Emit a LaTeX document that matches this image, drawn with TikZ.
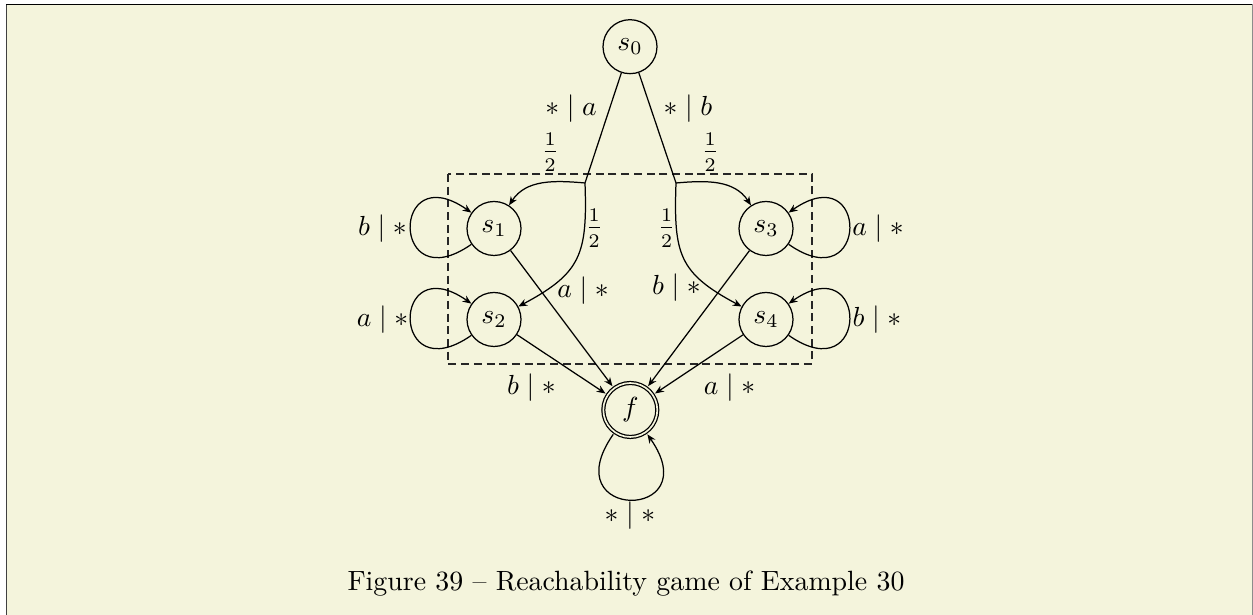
\documentclass[tikz,border=0pt]{standalone}
\usetikzlibrary{arrows.meta}
\definecolor{bgc}{RGB}{244,244,220}
\newcommand\halfx{\frac{\rule[-1.8pt]{0pt}{1.8pt}1}{\rule{0pt}{6.5pt}2}}
\begin{document}
\begin{tikzpicture}[x=0.3623pt,y=0.3623pt,line width=0.45pt,
  st/.style={circle,draw,minimum size=19.56pt,inner sep=0pt},
  lbl/.style={inner sep=0pt},
  arr/.style={-{Stealth[length=3.2pt,width=2.6pt]}},
  ]
\useasboundingbox (0,0) rectangle (1253,615);
\fill[white] (0,0) rectangle (1253,615);
\fill[bgc] (6.5,0) rectangle (1252.3,610.5);
\draw[black!75, line width=0.7pt] (6.5,0) -- (6.5,610.5);
\draw[black, line width=0.55pt] (6,610.5) -- (1252.3,610.5);
\draw[black!45, line width=0.35pt] (1252.3,610.5) -- (1252.3,0);

\draw[black!85,line width=0.4pt,dash pattern=on 2.9pt off 1.7pt] (448,441) rectangle (812,251);

\node[st] (s0) at (630,568.3) {$s_0$};
\node[st] (s1) at (494,386.5) {$s_1$};
\node[st] (s2) at (494,295.5) {$s_2$};
\node[st] (s3) at (766,386.5) {$s_3$};
\node[st] (s4) at (766,295.5) {$s_4$};
\node[st,double=bgc,double distance=0.6pt,outer sep=1pt] (f) at (630.3,205) {$f$};

\coordinate (L) at (585,432);
\coordinate (R) at (676,432);

\draw (s0) -- (L);
\draw (s0) -- (R);
\draw[arr] (L) to[out=175,in=57] (s1);
\draw[arr] (L) to[out=-88,in=28,looseness=1.3] (s2);
\draw[arr] (R) to[out=5,in=123] (s3);
\draw[arr] (R) to[out=-92,in=152,looseness=1.3] (s4);

\draw[arr] (s1) to[out=215,in=145,looseness=8] (s1);
\draw[arr] (s2) to[out=215,in=145,looseness=8] (s2);
\draw[arr] (s3) to[out=-35,in=35,looseness=8] (s3);
\draw[arr] (s4) to[out=-35,in=35,looseness=8] (s4);
\draw[arr] (f) to[out=235,in=305,looseness=8] (f);

\draw[arr] (s1) -- (f);
\draw[arr] (s2) -- (f);
\draw[arr] (s3) -- (f);
\draw[arr] (s4) -- (f);

\node[lbl] (l1) at (571,506) {$*\mid a$};
\node[lbl] (l2) at (688,506) {$*\mid b$};
\node[lbl] (h1) at (550,463) {$\halfx$};
\node[lbl] (h2) at (710,463) {$\halfx$};
\node[lbl] (h3) at (594,387) {$\halfx$};
\node[lbl] (h4) at (666.5,387) {$\halfx$};
\node[lbl] (l3) at (382.5,386.5) {$b\mid *$};
\node[lbl] (l4) at (382.5,295.5) {$a\mid *$};
\node[lbl] (l5) at (583,324.5) {$a\mid *$};
\node[lbl] (l6) at (676.5,327) {$b\mid *$};
\node[lbl] (l7) at (878,386) {$a\mid *$};
\node[lbl] (l8) at (877,295.5) {$b\mid *$};
\node[lbl] (l9) at (531.5,227.5) {$b\mid *$};
\node[lbl] (l10) at (729.5,227) {$a\mid *$};
\node[lbl] (l11) at (630,99.5) {$*\mid *$};

\node[lbl,anchor=base] (cap) at (626,24) {\resizebox{201.8pt}{!}{Figure 39 -- Reachability game of Example 30}};
\end{tikzpicture}
\end{document}
